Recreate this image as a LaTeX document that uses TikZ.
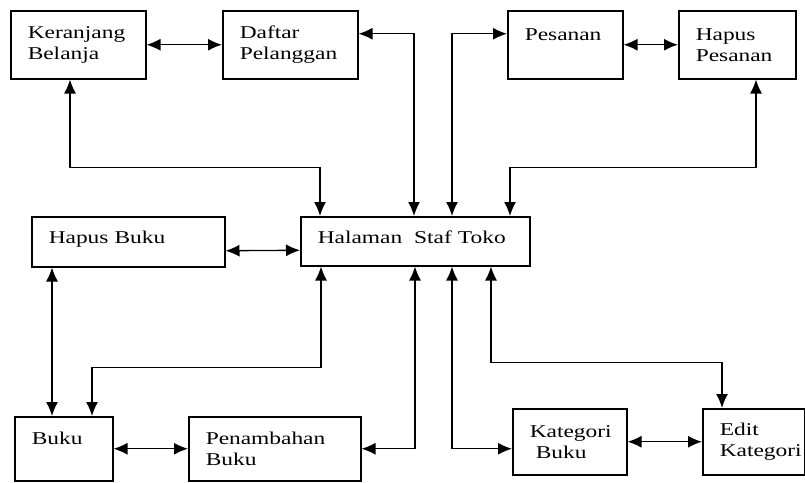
\documentclass[tikz,border=0pt]{standalone}
\usepackage{fontspec}
\setmainfont{Liberation Serif}[FakeStretch=1.3]
\usetikzlibrary{arrows.meta, positioning, calc}
\tikzset{>={Latex[length=14pt,width=12pt]}}
\tikzset{
  menu/.style={draw, line width=1.5pt, anchor=north west, align=left,
    inner xsep=17pt, inner ysep=0pt, font=\fontsize{18}{21}\selectfont},
  link/.style={<->, line width=1.3pt}
}

\begin{document}
\begin{tikzpicture}[x=1pt, y=-1pt]
  \useasboundingbox (0,0) rectangle (805,482);
  % baris atas
  \node[menu, text width=101pt, minimum height=68pt] (keranjang) at (10,10) {Keranjang\\Belanja};
  \node[menu, text width=101pt, minimum height=68pt] (daftar) at (222,10) {Daftar\\Pelanggan};
  \node[menu, text width=81pt, minimum height=68pt] (pesanan) at (507,10) {Pesanan\\\mbox{}};
  \node[menu, text width=83pt, minimum height=68pt] (hapuspesanan) at (678,10) {Hapus\\Pesanan};
  % baris tengah
  \node[menu, text width=159pt, minimum height=50pt, text depth=8pt] (hapusbuku) at (31,216) {Hapus Buku};
  \node[menu, text width=195pt, minimum height=49pt, text depth=8pt] (halaman) at (300,216) {Halaman\ \ Staf Toko};
  % baris bawah
  \node[menu, text width=64pt, minimum height=64pt] (buku) at (14,416) {Buku\\\mbox{}};
  \node[menu, text width=138pt, minimum height=64pt] (penambahan) at (188,416) {Penambahan\\Buku};
  \node[menu, text width=80pt, minimum height=66pt] (kategori) at (512,408) {Kategori\\\hspace*{6pt}Buku};
  \node[menu, text width=68pt, minimum height=66pt] (editkategori) at (702,408) {Edit\\Kategori};

  % penghubung atas
  \draw[link] (keranjang.east) -- (daftar.west);
  \draw[link] (pesanan.east) -- (hapuspesanan.west);
  \draw[link] ([yshift=11pt]daftar.east) -| ([xshift=114pt]halaman.north west);
  \draw[link] ([xshift=152pt]halaman.north west) |- ([yshift=11pt]pesanan.west);
  \draw[link] ([xshift=60pt]keranjang.south west) -- ++(0,88) -| ([xshift=20pt]halaman.north west);
  \draw[link] ([xshift=78pt]hapuspesanan.south west) -- ++(0,88) -| ([xshift=210pt]halaman.north west);
  % penghubung tengah
  \draw[link] ([yshift=-9pt]hapusbuku.east) -- ([yshift=-9pt]halaman.west);
  \draw[link] ([xshift=21pt]hapusbuku.south west) -- ([xshift=38pt]buku.north west);
  \draw[link] ([xshift=21pt]halaman.south west) -- ++(0,101) -| ([xshift=78pt]buku.north west);
  % penghubung bawah
  \draw[link] (buku.east) -- (penambahan.west);
  \draw[link] ([xshift=115pt]halaman.south west) |- (penambahan.east);
  \draw[link] ([xshift=152pt]halaman.south west) |- ([yshift=-7pt]kategori.west);
  \draw[link] ([xshift=191pt]halaman.south west) -- ++(0,96) -| ([xshift=20pt]editkategori.north west);
  \draw[link] (kategori.east) -- (editkategori.west);
\end{tikzpicture}
\end{document}
